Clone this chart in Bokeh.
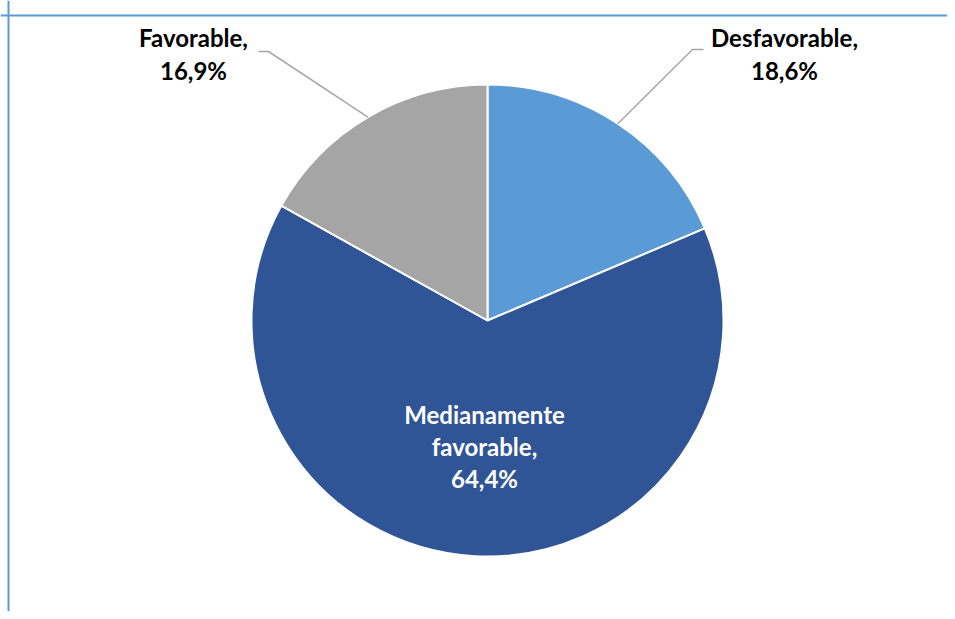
import math
from bokeh.plotting import figure
from bokeh.models import Span, ColumnDataSource
from bokeh.core.properties import value
from bokeh.embed import file_html
from bokeh.resources import INLINE

categories = ["Desfavorable", "Medianamente favorable", "Favorable"]
values = [18.6, 64.4, 16.9]
label_texts = ["Desfavorable,\n18,6%", "Medianamente\nfavorable,\n64,4%", "Favorable,\n16,9%"]
colors = ["#5B9BD5", "#2F5597", "#A5A5A5"]

W, H = 947, 611
p = figure(width=W, height=H, output_backend="svg", toolbar_location=None,
           x_range=(0, W), y_range=(0, H), min_border=0,
           x_axis_location=None, y_axis_location=None)
p.grid.visible = False
p.outline_line_color = None
p.background_fill_color = "white"
p.border_fill_color = "white"

cx, cy, r = 487, 291, 236
total = sum(values)
starts, ends, mids = [], [], []
cum = 0.0
for v in values:
    a0 = cum / total * 2 * math.pi
    cum += v
    a1 = cum / total * 2 * math.pi
    starts.append(math.pi / 2 - a1)
    ends.append(math.pi / 2 - a0)
    mids.append(math.pi / 2 - (a0 + a1) / 2)

src = ColumnDataSource(dict(start=starts, end=ends, color=colors, cat=categories))
p.wedge(x=cx, y=cy, radius=r, start_angle="start", end_angle="end",
        fill_color="color", line_color="white", line_width=2, source=src)

# border
p.add_layout(Span(location=596, dimension="width", line_color="#5B9BD5", line_width=2))
p.add_layout(Span(location=8, dimension="height", line_color="#5B9BD5", line_width=2))

font = value("Lato")
# leader lines for outside labels
for i, (hx0, hx1, hy) in {0: (703, 692, 611 - 49), 2: (258, 268, 611 - 51)}.items():
    ex = cx + r * math.cos(mids[i])
    ey = cy + r * math.sin(mids[i])
    p.line([hx0, hx1, ex], [hy, hy, ey], line_color="#A6A6A6", line_width=1.5)

common = dict(text_font=font, text_font_style="bold", text_font_size="24px",
              text_align="center", text_baseline="middle", text_line_height=1.12)
p.text(x=[784], y=[611 - 53.5], text=[label_texts[0]], text_color="black", **common)
p.text(x=[193], y=[611 - 53.5], text=[label_texts[2]], text_color="black", **common)
p.text(x=[484], y=[611 - 446], text=[label_texts[1]], text_color="white", **common)

open("out.html", "w").write(file_html(p, INLINE))
